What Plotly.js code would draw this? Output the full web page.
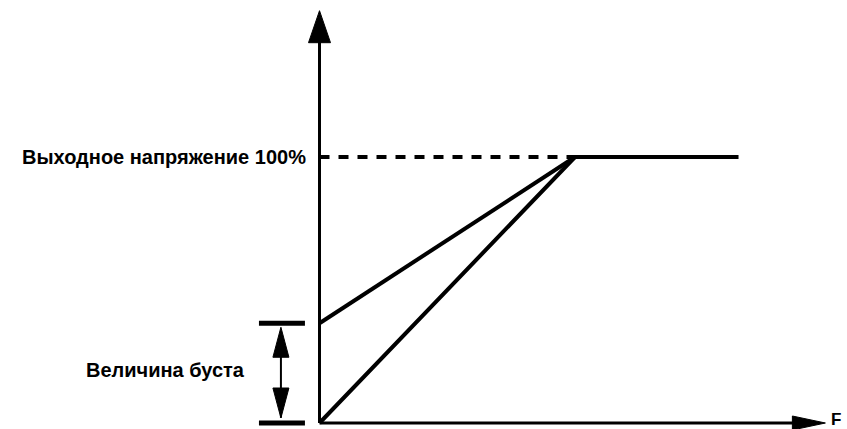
<!DOCTYPE html>
<html>
<head>
<meta charset="utf-8">
<script src="https://cdn.plot.ly/plotly-3.0.1.min.js"></script>
<style>
  html, body { margin: 0; padding: 0; background: #fff; }
  #chart { width: 847px; height: 429px; }
</style>
</head>
<body>
<div id="chart"></div>
<script>
// V/F curve: frequency relative to base frequency, voltage in %
const freqLinear = [0, 1, 1.64];
const voltLinear = [0, 100, 100];
const freqBoost = [0, 1];
const voltBoost = [37.5, 100];
const boost = 37.5;
const ratedVolt = 100;
const baseFreq = 1;

const labelVolt = "Выходное напряжение 100%";
const labelBoost = "Величина буста";
const labelF = "F";

// axis extents
const xAxisEnd = 1.98;
const yAxisEnd = 155;
const boostMarkX = [-0.237, -0.057];
const boostArrowX = -0.151;

const black = "#000";
const font = { family: "Liberation Sans, Arial, sans-serif", size: 20, color: black };

const line = (x0, y0, x1, y1, width, dash) => ({
    type: "line", xref: "x", yref: "y", x0, y0, x1, y1,
    line: { color: black, width, dash: dash || "solid" }
});

// arrowhead drawn in pixels around a data anchor
const head = (x, y, path) => ({
    type: "path", xref: "x", yref: "y",
    xsizemode: "pixel", ysizemode: "pixel",
    xanchor: x, yanchor: y, path,
    fillcolor: black, line: { color: black, width: 1 }
});

const traces = [
    {
        x: freqLinear, y: voltLinear, mode: "lines",
        line: { color: black, width: 4 }, hoverinfo: "skip"
    },
    {
        x: freqBoost, y: voltBoost, mode: "lines",
        line: { color: black, width: 4 }, hoverinfo: "skip"
    }
];

const shapes = [
    // axes
    line(0, 0, 0, yAxisEnd - 5, 3),
    line(0, 0, xAxisEnd - 0.05, 0, 3),
    head(0, yAxisEnd, "M0,0 L-11,-32 L11,-32 Z"),
    head(xAxisEnd, 0, "M0,0 L-33,7 L-33,-7 Z"),
    // dashed rated voltage
    line(0, ratedVolt, baseFreq, ratedVolt, 4, "10px,9px"),
    // boost marker
    line(boostMarkX[0], boost, boostMarkX[1], boost, 5),
    line(boostMarkX[0], 0, boostMarkX[1], 0, 5),
    line(boostArrowX, boost - 4, boostArrowX, 2, 2),
    head(boostArrowX, boost, "M0,-4 L-8,-34 L8,-34 Z"),
    head(boostArrowX, 0, "M0,5 L-8,35 L8,35 Z")
];

const annotations = [
    { x: -0.05, y: ratedVolt, text: labelVolt, xanchor: "right", size: 20 },
    { x: -0.918, y: 20, text: labelBoost, xanchor: "left", size: 20 },
    { x: 2.0, y: 1.5, text: labelF, xanchor: "left", size: 17 }
].map(a => ({
    xref: "x", yref: "y", showarrow: false, yanchor: "middle",
    x: a.x, y: a.y, xanchor: a.xanchor, borderpad: 0,
    font: Object.assign({}, font, { size: a.size }),
    text: "<b>" + a.text + "</b>"
}));

Plotly.newPlot("chart", traces, {
    width: 847, height: 429,
    margin: { l: 0, r: 0, t: 0, b: 0, pad: 0 },
    paper_bgcolor: "#fff", plot_bgcolor: "#fff",
    showlegend: false,
    xaxis: { range: [-1.2505, 2.0646], visible: false, fixedrange: true },
    yaxis: { range: [-2.256, 159.02], visible: false, fixedrange: true },
    shapes, annotations
}, { staticPlot: true });
</script>
</body>
</html>
